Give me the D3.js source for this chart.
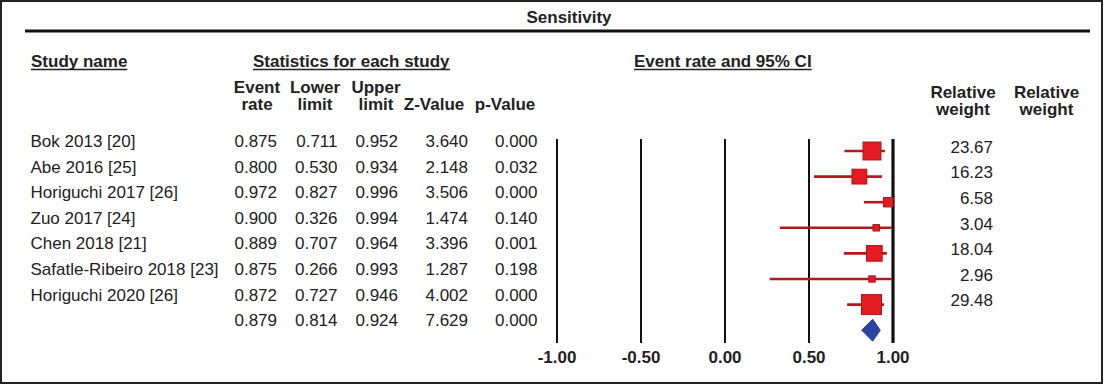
<!DOCTYPE html>
<html>
<head>
<meta charset="utf-8">
<script src="https://cdn.jsdelivr.net/npm/d3@7"></script>
<style>
  html, body { margin: 0; padding: 0; background: #fff; }
  svg { display: block; }
  text { font-family: "Liberation Sans", Arial, sans-serif; fill: #222; }
</style>
</head>
<body>
<svg id="chart" width="1105" height="384"></svg>
<script>
// ---- Data ----
const studies = ["Bok 2013 [20]", "Abe 2016 [25]", "Horiguchi 2017 [26]", "Zuo 2017 [24]",
                 "Chen 2018 [21]", "Safatle-Ribeiro 2018 [23]", "Horiguchi 2020 [26]"];
const eventRate = [0.875, 0.800, 0.972, 0.900, 0.889, 0.875, 0.872];
const lowerLimit = [0.711, 0.530, 0.827, 0.326, 0.707, 0.266, 0.727];
const upperLimit = [0.952, 0.934, 0.996, 0.994, 0.964, 0.993, 0.946];
const zValue = [3.640, 2.148, 3.506, 1.474, 3.396, 1.287, 4.002];
const pValue = [0.000, 0.032, 0.000, 0.140, 0.001, 0.198, 0.000];
const relWeight = [23.67, 16.23, 6.58, 3.04, 18.04, 2.96, 29.48];
const summary = { rate: 0.879, lower: 0.814, upper: 0.924, z: 7.629, p: 0.000 };
const tickValues = [-1.00, -0.50, 0.00, 0.50, 1.00];

// ---- Layout ----
const svg = d3.select("#chart");
const FONT = 17;
const x = d3.scaleLinear().domain([-1, 1]).range([557, 893]);
const rowY = d3.scaleLinear().domain([0, 1]).range([147, 172.6]); // text baselines
const size = d3.scaleSqrt().domain([0, 29.48]).range([0, 20]);
const locale = d3.formatLocale({ decimal: ".", thousands: ",", grouping: [3], currency: ["", ""], minus: "-" });
const fmt3 = locale.format(".3f"), fmt2 = locale.format(".2f");

// frame
svg.append("rect").attr("x", 1).attr("y", 1).attr("width", 1101).attr("height", 382)
  .attr("fill", "none").attr("stroke", "#222").attr("stroke-width", 2);

// title
svg.append("text").attr("x", 569).attr("y", 22.5).attr("text-anchor", "middle")
  .attr("font-size", FONT).attr("font-weight", "bold").text("Sensitivity");
svg.append("line").attr("x1", 25).attr("x2", 1090).attr("y1", 31).attr("y2", 31)
  .attr("stroke", "#111").attr("stroke-width", 3);

// underlined section headers
function ulText(tx, ty, anchor, str) {
  const t = svg.append("text").attr("x", tx).attr("y", ty).attr("text-anchor", anchor)
    .attr("font-size", FONT).attr("font-weight", "bold").text(str);
  const b = t.node().getBBox();
  svg.append("line").attr("x1", b.x).attr("x2", b.x + b.width)
    .attr("y1", ty + 3).attr("y2", ty + 3).attr("stroke", "#222").attr("stroke-width", 1.6);
}
ulText(31, 66.5, "start", "Study name");
ulText(253, 66.5, "start", "Statistics for each study");
ulText(634, 66.5, "start", "Event rate and 95% CI");

// column headers
const headers = [
  { cx: 257, l1: "Event", l2: "rate" },
  { cx: 315, l1: "Lower", l2: "limit" },
  { cx: 376, l1: "Upper", l2: "limit" },
  { cx: 434, l1: "", l2: "Z-Value" },
  { cx: 505, l1: "", l2: "p-Value" }
];
headers.forEach(h => {
  svg.append("text").attr("x", h.cx).attr("y", 92.7).attr("text-anchor", "middle")
    .attr("font-size", FONT).attr("font-weight", "bold").text(h.l1);
  svg.append("text").attr("x", h.cx).attr("y", 110).attr("text-anchor", "middle")
    .attr("font-size", FONT).attr("font-weight", "bold").text(h.l2);
});
[963, 1046.5].forEach(cx => {
  svg.append("text").attr("x", cx).attr("y", 97.5).attr("text-anchor", "middle")
    .attr("font-size", FONT).attr("font-weight", "bold").text("Relative");
  svg.append("text").attr("x", cx).attr("y", 115).attr("text-anchor", "middle")
    .attr("font-size", FONT).attr("font-weight", "bold").text("weight");
});

// table rows
const colRight = [277, 337.5, 398, 468, 537.5];
const rows = studies.map((s, i) => ({
  name: s, vals: [eventRate[i], lowerLimit[i], upperLimit[i], zValue[i], pValue[i]], i
}));
rows.push({ name: "", vals: [summary.rate, summary.lower, summary.upper, summary.z, summary.p], i: studies.length });

const g = svg.append("g");
rows.forEach(r => {
  g.append("text").attr("x", 30.5).attr("y", rowY(r.i)).attr("font-size", FONT).text(r.name);
  r.vals.forEach((v, j) => {
    g.append("text").attr("x", colRight[j]).attr("y", rowY(r.i)).attr("text-anchor", "end")
      .attr("font-size", FONT).text(fmt3(v));
  });
});
relWeight.forEach((w, i) => {
  g.append("text").attr("x", 993).attr("y", rowY(i) + 5.7).attr("text-anchor", "end")
    .attr("font-size", FONT).text(fmt2(w));
});

// axis / reference lines
tickValues.forEach(t => {
  svg.append("line").attr("x1", x(t)).attr("x2", x(t)).attr("y1", 139).attr("y2", 343)
    .attr("stroke", "#111").attr("stroke-width", t === 1 ? 3.2 : 2);
  svg.append("text").attr("x", x(t)).attr("y", 362.5).attr("text-anchor", "middle")
    .attr("font-size", FONT).attr("font-weight", "bold").text(fmt2(t));
});

// CIs and squares
const markY = i => rowY(i) + 4;
studies.forEach((s, i) => {
  svg.append("line").attr("x1", x(lowerLimit[i])).attr("x2", x(upperLimit[i]))
    .attr("y1", markY(i)).attr("y2", markY(i))
    .attr("stroke", "#b3191f").attr("stroke-width", 2.6);
  const sz = size(relWeight[i]);
  svg.append("rect").attr("x", x(eventRate[i]) - sz / 2).attr("y", markY(i) - sz / 2)
    .attr("width", sz).attr("height", sz)
    .attr("fill", "#e61a22").attr("stroke", "#a8151a").attr("stroke-width", 1);
});

// summary diamond
const dy = markY(studies.length);
const dh = 11;
svg.append("path")
  .attr("d", `M${x(summary.lower)},${dy} L${x(summary.rate)},${dy - dh} L${x(summary.upper)},${dy} L${x(summary.rate)},${dy + dh} Z`)
  .attr("fill", "#2c43a3").attr("stroke", "#243a8e").attr("stroke-width", 1);
</script>
</body>
</html>
